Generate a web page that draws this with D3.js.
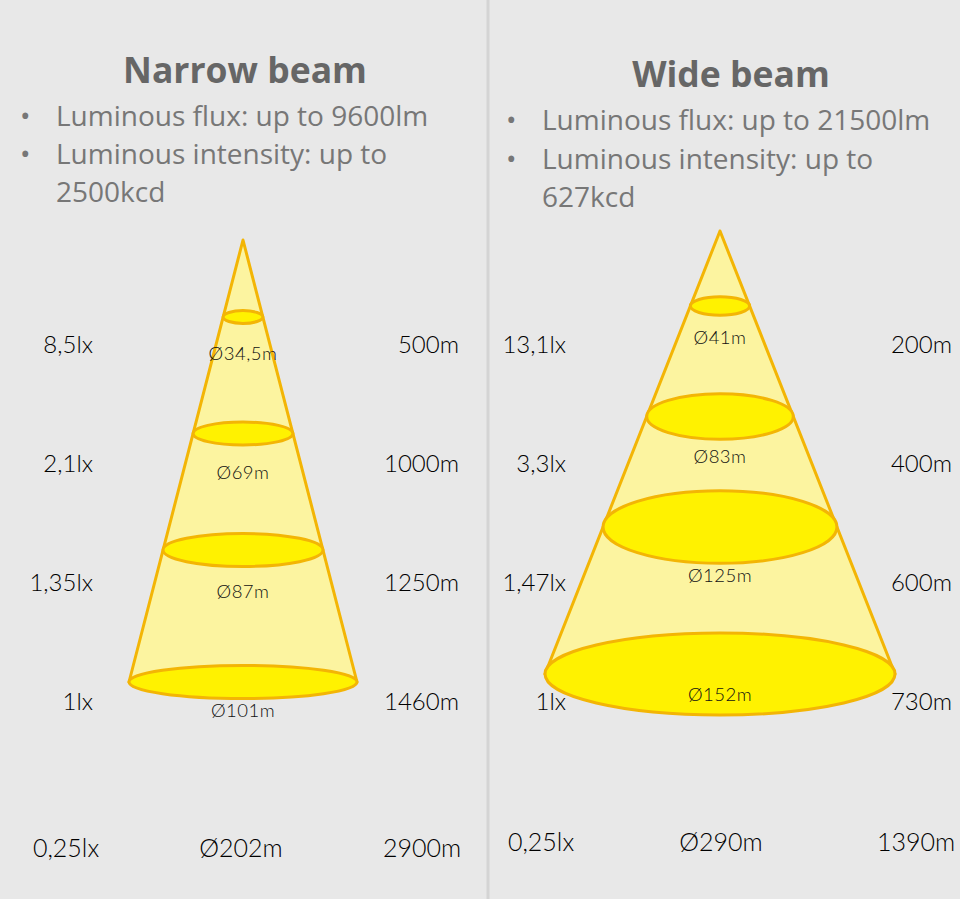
<!DOCTYPE html>
<html><head><meta charset="utf-8">
<script src="https://cdn.jsdelivr.net/npm/d3@7"></script>
<style>
html,body{margin:0;padding:0;background:#e8e8e8;}
svg{display:block;}
</style>
</head><body>
<svg id="chart" width="960" height="899"></svg>
<script>
// ---------- data ----------
const beamTitles = ["Narrow beam", "Wide beam"];
const fluxLm = [9600, 21500];
const intensityKcd = [2500, 627];

const narrowIlluminance = [8.5, 2.1, 1.35, 1, 0.25];
const narrowDiameter = [34.5, 69, 87, 101, 202];
const narrowDistance = [500, 1000, 1250, 1460, 2900];

const wideIlluminance = [13.1, 3.3, 1.47, 1, 0.25];
const wideDiameter = [41, 83, 125, 152, 290];
const wideDistance = [200, 400, 600, 730, 1390];

// ---------- formatting (comma decimal) ----------
const loc = d3.formatLocale({decimal: ",", thousands: ".", grouping: [3], currency: ["", ""]});
const num = loc.format("");

// ---------- layout ----------
const W = 960, H = 899;
const svg = d3.select("#chart");
svg.append("rect").attr("width", W).attr("height", H).attr("fill", "#e8e8e8");
svg.append("line").attr("x1", 488).attr("x2", 488).attr("y1", 0).attr("y2", H)
   .attr("stroke", "#d4d4d4").attr("stroke-width", 3);

const panels = [
  {title: beamTitles[0], flux: fluxLm[0], kcd: intensityKcd[0],
   lux: narrowIlluminance, dia: narrowDiameter, dist: narrowDistance,
   L: {cx: 243, titleX: 245, titleY: 83, bulletX: 20, textX: 56, line1: 126, lineH: 38,
       apexY: 240, baseY: 682, baseRx: 114, ring0: 317, ring2: 550,
       ryA: 3, ryB: 0.17, ryCap: 16.5,
       row0: 345, rowStep: 119, leftX: 93, rightX: 459, diaDy: 9,
       bottomY: 848, bottomX: [66, 241, 422]}},
  {title: beamTitles[1], flux: fluxLm[1], kcd: intensityKcd[1],
   lux: wideIlluminance, dia: wideDiameter, dist: wideDistance,
   L: {cx: 720, titleX: 731, titleY: 87, bulletX: 506, textX: 542, line1: 130, lineH: 38.5,
       apexY: 231, baseY: 674, baseRx: 175, ring0: 306, ring2: 527,
       ryA: 0, ryB: 0.31, ryCap: 41,
       row0: 345, rowStep: 119, leftX: 566, rightX: 952, diaDy: -7,
       bottomY: 842, bottomX: [541, 721, 916]}}
];

const coneFill = "#fcf4a0", ringFill = "#fff200", stroke = "#f3b505";
const labelFont = "Lato, 'DejaVu Sans', sans-serif";
const headFont = "'Open Sans', 'Noto Sans', sans-serif";

panels.forEach(p => {
  const L = p.L;
  const g = svg.append("g");

  // title + bullets
  g.append("text").attr("x", L.titleX).attr("y", L.titleY).attr("text-anchor", "middle")
   .attr("font-family", headFont).attr("font-weight", 700).attr("font-size", 35.5)
   .attr("fill", "#666").text(p.title);

  const lines = [
    {t: `Luminous flux: up to ${p.flux}lm`, bullet: true},
    {t: "Luminous intensity: up to", bullet: true},
    {t: `${p.kcd}kcd`, bullet: false}
  ];
  const yLine = d3.scaleLinear().domain([0, 1]).range([L.line1, L.line1 + L.lineH]);
  lines.forEach((ln, i) => {
    g.append("text").attr("x", L.textX).attr("y", yLine(i))
     .attr("font-family", headFont).attr("font-size", 28).attr("fill", "#777").text(ln.t);
    if (ln.bullet) {
      g.append("text").attr("x", L.bulletX).attr("y", yLine(i))
       .attr("font-family", headFont).attr("font-size", 28).attr("fill", "#777").text("\u2022");
    }
  });

  // scales
  const yRow = d3.scaleLinear().domain([0, 1]).range([L.row0, L.row0 + L.rowStep]);
  const yRing = d3.scaleLinear().domain([0, 2]).range([L.ring0, L.ring2]);
  const rxAt = d3.scaleLinear().domain([L.apexY, L.baseY]).range([0, L.baseRx]);
  const ringY = i => i < 3 ? yRing(i) : L.baseY;
  const ryOf = rx => Math.min(L.ryCap, L.ryA + L.ryB * rx);

  // cone
  const cone = d3.path();
  cone.moveTo(L.cx, L.apexY);
  cone.lineTo(L.cx - rxAt(L.baseY), L.baseY);
  cone.lineTo(L.cx + rxAt(L.baseY), L.baseY);
  cone.closePath();
  g.append("path").attr("d", cone.toString()).attr("fill", coneFill)
   .attr("stroke", stroke).attr("stroke-width", 3).attr("stroke-linejoin", "round");

  // rings (first four rows)
  const rings = p.dia.slice(0, 4).map((d, i) => ({d, i}));
  g.selectAll("ellipse.ring").data(rings).join("ellipse").attr("class", "ring")
   .attr("cx", L.cx).attr("cy", r => ringY(r.i))
   .attr("rx", r => rxAt(ringY(r.i)))
   .attr("ry", r => ryOf(rxAt(ringY(r.i))))
   .attr("fill", ringFill).attr("stroke", stroke).attr("stroke-width", 3);

  // diameter labels inside cone
  g.selectAll("text.dia").data(rings).join("text").attr("class", "dia")
   .attr("x", L.cx).attr("y", r => yRow(r.i) + L.diaDy).attr("dy", "0.35em")
   .attr("text-anchor", "middle").attr("font-family", labelFont).attr("font-weight", 300)
   .attr("font-size", 18.5).attr("letter-spacing", 0.5).attr("fill", "#111")
   .text(r => "\u00D8" + num(r.d) + "m");

  // left illuminance / right distance labels (first four rows)
  const rows = d3.range(4);
  g.selectAll("text.lux").data(rows).join("text").attr("class", "lux")
   .attr("x", L.leftX).attr("y", i => yRow(i)).attr("dy", "0.35em").attr("text-anchor", "end")
   .attr("font-family", labelFont).attr("font-weight", 300).attr("font-size", 24).attr("fill", "#000")
   .text(i => num(p.lux[i]) + "lx");
  g.selectAll("text.dist").data(rows).join("text").attr("class", "dist")
   .attr("x", L.rightX).attr("y", i => yRow(i)).attr("dy", "0.35em").attr("text-anchor", "end")
   .attr("font-family", labelFont).attr("font-weight", 300).attr("font-size", 24).attr("fill", "#000")
   .text(i => num(p.dist[i]) + "m");

  // bottom row
  const bottom = [num(p.lux[4]) + "lx", "\u00D8" + num(p.dia[4]) + "m", num(p.dist[4]) + "m"];
  g.selectAll("text.bottom").data(bottom).join("text").attr("class", "bottom")
   .attr("x", (d, i) => L.bottomX[i]).attr("y", L.bottomY).attr("dy", "0.35em")
   .attr("text-anchor", "middle").attr("font-family", labelFont).attr("font-weight", 300)
   .attr("font-size", 25).attr("fill", "#000").text(d => d);
});
</script>
</body></html>
